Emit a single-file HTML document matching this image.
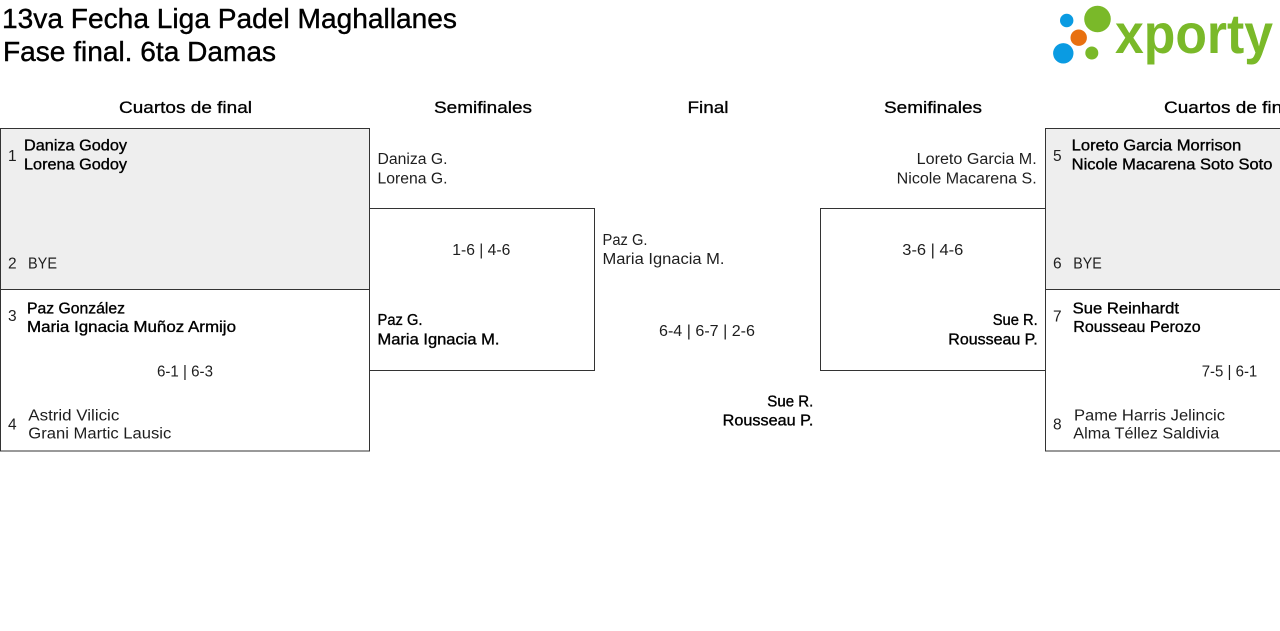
<!DOCTYPE html>
<html>
<head>
<meta charset="utf-8">
<style>
html,body{margin:0;padding:0;background:#fff;}
svg{display:block;}
text{font-family:"Liberation Sans",Arial,sans-serif;}
.r{font-size:15.5px;fill:#1e1e1e;}
.b{font-size:15.5px;fill:#000;stroke:#000;stroke-width:0.35px;}
.h{font-size:17px;fill:#000;stroke:#000;stroke-width:0.3px;}
.t{font-size:28px;fill:#000;stroke:#000;stroke-width:0.4px;}
</style>
</head>
<body>
<svg width="1280" height="631" viewBox="0 0 1280 631" xmlns="http://www.w3.org/2000/svg">
<rect x="0" y="0" width="1280" height="631" fill="#fff"/>

<!-- Title -->
<text class="t" x="2" y="28" textLength="455" lengthAdjust="spacingAndGlyphs">13va Fecha Liga Padel Maghallanes</text>
<text class="t" x="3" y="61" textLength="273" lengthAdjust="spacingAndGlyphs">Fase final. 6ta Damas</text>

<!-- Logo -->
<circle cx="1066.7" cy="20.5" r="6.7" fill="#0a9be2"/>
<circle cx="1097.5" cy="19" r="13.3" fill="#7ab929"/>
<circle cx="1078.7" cy="37.7" r="8.2" fill="#e8700f"/>
<circle cx="1063.3" cy="53.3" r="10.2" fill="#0a9be2"/>
<circle cx="1091.8" cy="53" r="6.5" fill="#7ab929"/>
<text x="1115" y="53" font-size="56" font-weight="bold" fill="#7ab929" textLength="158" lengthAdjust="spacingAndGlyphs" style="font-family:'Liberation Sans',Arial,sans-serif">xporty</text>

<!-- Headers -->
<text class="h" x="119" y="113" textLength="133" lengthAdjust="spacingAndGlyphs">Cuartos de final</text>
<text class="h" x="434" y="113" textLength="98" lengthAdjust="spacingAndGlyphs">Semifinales</text>
<text class="h" x="687.5" y="113" textLength="41" lengthAdjust="spacingAndGlyphs">Final</text>
<text class="h" x="884" y="113" textLength="98" lengthAdjust="spacingAndGlyphs">Semifinales</text>
<text class="h" x="1164" y="113" textLength="133" lengthAdjust="spacingAndGlyphs">Cuartos de final</text>

<!-- Left QF boxes -->
<rect x="0.5" y="128.5" width="369" height="161" fill="#eeeeee" stroke="#333" stroke-width="1"/>
<rect x="0.5" y="289.5" width="369" height="161.5" fill="#fff" stroke="#333" stroke-width="1"/>

<!-- Left semis box -->
<path d="M369.5 208.5 H594.5 V370.5 H369.5" fill="none" stroke="#333" stroke-width="1"/>

<!-- Right semis box -->
<path d="M1045.5 208.5 H820.5 V370.5 H1045.5" fill="none" stroke="#333" stroke-width="1"/>

<!-- Right QF boxes -->
<rect x="1045.5" y="128.5" width="300" height="161" fill="#eeeeee" stroke="#333" stroke-width="1"/>
<rect x="1045.5" y="289.5" width="300" height="161.5" fill="#fff" stroke="#333" stroke-width="1"/>

<!-- Left QF match 1 -->
<text class="r" x="8" y="161">1</text>
<text class="b" x="24" y="150.7" textLength="103" lengthAdjust="spacingAndGlyphs">Daniza Godoy</text>
<text class="b" x="24" y="169.3" textLength="103" lengthAdjust="spacingAndGlyphs">Lorena Godoy</text>
<text class="r" x="8" y="268.3">2</text>
<text class="r" x="28" y="268.3" textLength="29" lengthAdjust="spacingAndGlyphs">BYE</text>

<!-- Left QF match 2 -->
<text class="r" x="8" y="321">3</text>
<text class="b" x="27" y="313.3" textLength="98" lengthAdjust="spacingAndGlyphs">Paz González</text>
<text class="b" x="27" y="332" textLength="209" lengthAdjust="spacingAndGlyphs">Maria Ignacia Muñoz Armijo</text>
<text class="r" x="157" y="376.5" textLength="56" lengthAdjust="spacingAndGlyphs">6-1 | 6-3</text>
<text class="r" x="8" y="429.3">4</text>
<text class="r" x="28.3" y="420.7" textLength="91" lengthAdjust="spacingAndGlyphs">Astrid Vilicic</text>
<text class="r" x="28.3" y="438.7" textLength="143" lengthAdjust="spacingAndGlyphs">Grani Martic Lausic</text>

<!-- Left semis -->
<text class="r" x="377.5" y="164" textLength="70" lengthAdjust="spacingAndGlyphs">Daniza G.</text>
<text class="r" x="377.5" y="183.3" textLength="70" lengthAdjust="spacingAndGlyphs">Lorena G.</text>
<text class="r" x="452.3" y="255" textLength="58" lengthAdjust="spacingAndGlyphs">1-6 | 4-6</text>
<text class="b" x="377.5" y="325" textLength="45" lengthAdjust="spacingAndGlyphs">Paz G.</text>
<text class="b" x="377.5" y="344.3" textLength="122" lengthAdjust="spacingAndGlyphs">Maria Ignacia M.</text>

<!-- Final -->
<text class="r" x="602.5" y="245" textLength="45" lengthAdjust="spacingAndGlyphs">Paz G.</text>
<text class="r" x="602.5" y="264" textLength="122" lengthAdjust="spacingAndGlyphs">Maria Ignacia M.</text>
<text class="r" x="659" y="336" textLength="96" lengthAdjust="spacingAndGlyphs">6-4 | 6-7 | 2-6</text>
<text class="b" x="767.3" y="406.7" textLength="46" lengthAdjust="spacingAndGlyphs">Sue R.</text>
<text class="b" x="722.7" y="425.7" textLength="90.7" lengthAdjust="spacingAndGlyphs">Rousseau P.</text>

<!-- Right semis -->
<text class="r" x="916.7" y="164" textLength="120" lengthAdjust="spacingAndGlyphs">Loreto Garcia M.</text>
<text class="r" x="896.7" y="183.3" textLength="140" lengthAdjust="spacingAndGlyphs">Nicole Macarena S.</text>
<text class="r" x="902.3" y="255" textLength="61" lengthAdjust="spacingAndGlyphs">3-6 | 4-6</text>
<text class="b" x="992.7" y="325" textLength="45" lengthAdjust="spacingAndGlyphs">Sue R.</text>
<text class="b" x="948.3" y="344.3" textLength="89.4" lengthAdjust="spacingAndGlyphs">Rousseau P.</text>

<!-- Right QF match 1 -->
<text class="r" x="1053" y="161">5</text>
<text class="b" x="1071.7" y="150.7" textLength="169.5" lengthAdjust="spacingAndGlyphs">Loreto Garcia Morrison</text>
<text class="b" x="1071.7" y="169.3" textLength="200.7" lengthAdjust="spacingAndGlyphs">Nicole Macarena Soto Soto</text>
<text class="r" x="1053" y="268.3">6</text>
<text class="r" x="1073.3" y="268.3" textLength="28.5" lengthAdjust="spacingAndGlyphs">BYE</text>

<!-- Right QF match 2 -->
<text class="r" x="1053" y="321.7">7</text>
<text class="b" x="1072.7" y="313.3" textLength="106.3" lengthAdjust="spacingAndGlyphs">Sue Reinhardt</text>
<text class="b" x="1073.3" y="332" textLength="127.4" lengthAdjust="spacingAndGlyphs">Rousseau Perozo</text>
<text class="r" x="1201.7" y="376.5" textLength="55.6" lengthAdjust="spacingAndGlyphs">7-5 | 6-1</text>
<text class="r" x="1053" y="429.3">8</text>
<text class="r" x="1074" y="420.7" textLength="151" lengthAdjust="spacingAndGlyphs">Pame Harris Jelincic</text>
<text class="r" x="1073.3" y="438.7" textLength="146" lengthAdjust="spacingAndGlyphs">Alma Téllez Saldivia</text>
</svg>
</body>
</html>
